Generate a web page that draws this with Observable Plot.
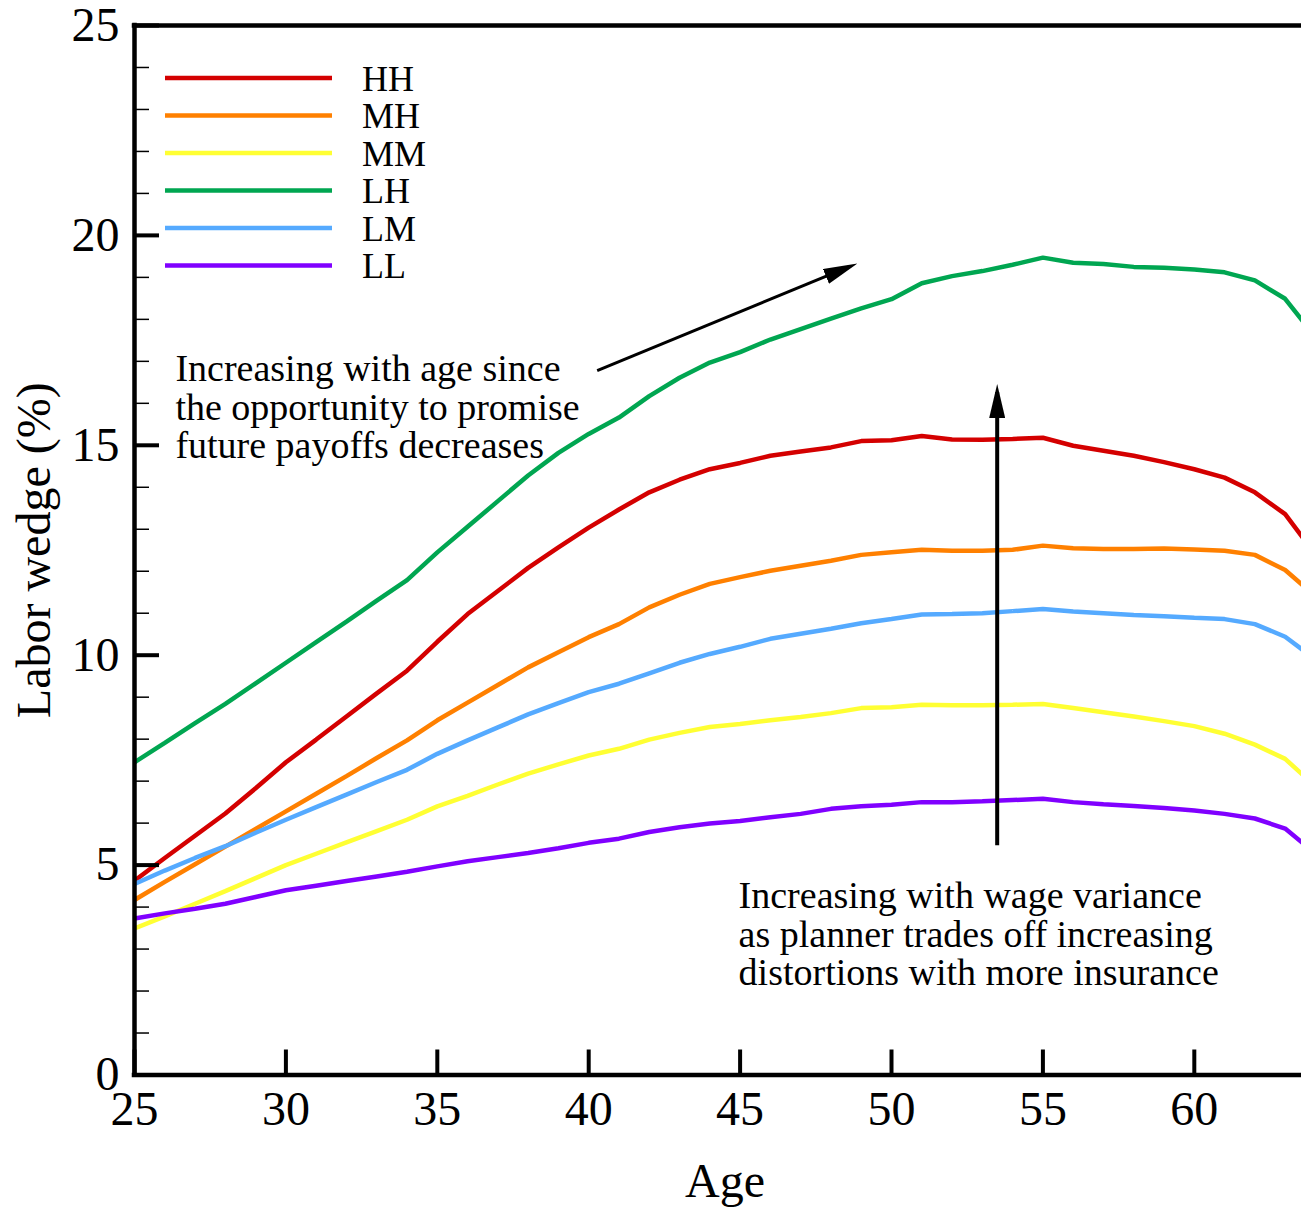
<!DOCTYPE html>
<html>
<head>
<meta charset="utf-8">
<script src="https://cdn.jsdelivr.net/npm/d3@7"></script>
<script src="https://cdn.jsdelivr.net/npm/@observablehq/plot@0.6"></script>
<style>
  html, body { margin: 0; padding: 0; background: #fff; }
  #chart { position: relative; width: 1301px; height: 1209px; overflow: hidden; background: #fff; }
  #legend { position: absolute; left: 0; top: 0; pointer-events: none; }
</style>
</head>
<body>
<div id="chart"></div>
<script>
// ---------------- data ----------------
const ages = [25,26,27,28,29,30,31,32,33,34,35,36,37,38,39,40,41,42,43,44,45,46,47,48,49,50,51,52,53,54,55,56,57,58,59,60,61,62,63,64];

const seriesNames  = ["HH", "MH", "MM", "LH", "LM", "LL"];
const seriesColors = ["#d40000", "#ff8000", "#ffff33", "#00a651", "#55aaff", "#8000ff"];

const HH = [4.63,5.17,5.70,6.23,6.83,7.45,7.99,8.54,9.09,9.63,10.32,10.98,11.53,12.08,12.57,13.04,13.47,13.88,14.18,14.43,14.58,14.75,14.85,14.95,15.10,15.12,15.22,15.14,15.13,15.15,15.18,14.99,14.87,14.75,14.60,14.43,14.23,13.88,13.36,12.40];
const MH = [4.17,4.60,5.02,5.44,5.86,6.28,6.70,7.12,7.55,7.97,8.45,8.87,9.29,9.71,10.07,10.43,10.74,11.14,11.44,11.70,11.86,12.01,12.13,12.25,12.39,12.45,12.51,12.49,12.49,12.51,12.61,12.55,12.53,12.53,12.54,12.52,12.49,12.39,12.03,11.40];
const MM = [3.49,3.78,4.08,4.38,4.69,5.00,5.27,5.54,5.81,6.08,6.40,6.65,6.92,7.18,7.40,7.61,7.77,7.99,8.15,8.29,8.36,8.45,8.53,8.62,8.74,8.76,8.82,8.81,8.81,8.82,8.84,8.74,8.64,8.54,8.43,8.31,8.13,7.87,7.53,6.88];
const LH = [7.45,7.91,8.38,8.84,9.33,9.82,10.31,10.80,11.30,11.79,12.45,13.06,13.67,14.28,14.82,15.27,15.66,16.17,16.61,16.97,17.22,17.52,17.77,18.02,18.26,18.48,18.86,19.03,19.15,19.30,19.47,19.35,19.32,19.25,19.23,19.19,19.12,18.93,18.49,17.58];
const LM = [4.55,4.87,5.17,5.45,5.77,6.08,6.38,6.68,6.98,7.27,7.65,7.97,8.28,8.59,8.86,9.12,9.32,9.57,9.82,10.03,10.20,10.39,10.51,10.63,10.76,10.86,10.97,10.98,11.00,11.05,11.10,11.04,11.00,10.96,10.93,10.89,10.86,10.74,10.44,9.90];
const LL = [3.73,3.85,3.96,4.08,4.24,4.40,4.51,4.62,4.73,4.84,4.97,5.09,5.19,5.29,5.40,5.53,5.63,5.79,5.90,5.99,6.05,6.14,6.22,6.34,6.40,6.44,6.50,6.50,6.52,6.55,6.58,6.50,6.45,6.41,6.36,6.30,6.22,6.11,5.87,5.28];

const xTicks = [25, 30, 35, 40, 45, 50, 55, 60];
const yTicks = [0, 5, 10, 15, 20, 25];
const yMinorTicks = [1,2,3,4,6,7,8,9,11,12,13,14,16,17,18,19,21,22,23,24];

const xLabel = "Age";
const yLabel = "Labor wedge (%)";

// annotations (data coordinates: age, wedge)
const noteTexts  = ["Increasing with age since\nthe opportunity to promise\nfuture payoffs decreases",
                    "Increasing with wage variance\nas planner trades off increasing\ndistortions with more insurance"];
const noteAges   = [26.35, 44.95];
const noteWedges = [15.90, 3.35];

const arrowAgeFrom   = [40.28, 53.49];
const arrowWedgeFrom = [16.78, 5.47];
const arrowAgeTo     = [48.63, 53.49];
const arrowWedgeTo   = [19.26, 16.27];

// ---------------- tables ----------------
const seriesValues = [HH, MH, MM, LH, LM, LL];
const rows = seriesNames.flatMap((s, i) => ages.map((a, j) => ({series: s, age: a, wedge: seriesValues[i][j]})));
const notes = noteTexts.map((t, i) => ({text: t, age: noteAges[i], wedge: noteWedges[i]}));
const arrows = arrowAgeFrom.map((a, i) => ({x1: a, y1: arrowWedgeFrom[i], x2: arrowAgeTo[i], y2: arrowWedgeTo[i], w: i === 0 ? 3 : 4}));

const serif = "'Liberation Serif', 'Times New Roman', Times, serif";

const plot = Plot.plot({
  width: 1301,
  height: 1209,
  marginLeft: 134,
  marginRight: 0,
  marginTop: 25,
  marginBottom: 134.5,
  style: {fontFamily: serif, fontSize: "48px", color: "#000", background: "#fff"},
  x: {domain: [25, 63.54]},
  y: {domain: [0, 25]},
  color: {domain: seriesNames, range: seriesColors},
  marks: [
    Plot.line(rows, {x: "age", y: "wedge", z: "series", stroke: "series", strokeWidth: 4.5, strokeLinejoin: "miter", clip: true}),
    // minor and major ticks (inward)
    Plot.axisY(yMinorTicks, {tickSize: -15, strokeWidth: 1.5, fill: "none", label: null}),
    Plot.axisY(yTicks, {tickSize: -25, strokeWidth: 4, fill: "none", label: null}),
    Plot.axisX(xTicks, {tickSize: -25, strokeWidth: 4, fill: "none", label: null}),
    // tick labels
    Plot.axisY(yTicks, {tickSize: 0, tickPadding: 15, fontSize: 48, label: null}),
    Plot.axisX(xTicks, {tickSize: 0, tickPadding: 16, fontSize: 48, label: null}),
    // frame
    Plot.ruleX([25], {strokeWidth: 4.5, strokeLinecap: "square"}),
    Plot.ruleY([0], {strokeWidth: 4.5, strokeLinecap: "square"}),
    Plot.ruleY([25], {strokeWidth: 4.5, strokeLinecap: "square"}),
    // axis titles
    Plot.text([xLabel], {text: d => d, frameAnchor: "bottom", textAnchor: "middle", dx: 7, dy: 107, fontSize: 48, lineAnchor: "middle"}),
    Plot.text([yLabel], {text: d => d, frameAnchor: "left", textAnchor: "middle", rotate: -90, dx: -100, fontSize: 48, lineAnchor: "middle"}),
    // annotations
    Plot.text(notes, {x: "age", y: "wedge", text: "text", textAnchor: "start", lineAnchor: "middle", lineHeight: 1.01, fontSize: 38, fill: "#000"}),
    Plot.link(arrows, {x1: "x1", y1: "y1", x2: "x2", y2: "y2", stroke: "#000", strokeWidth: "w", markerEnd: "arrow"})
  ]
});

// filled triangular arrowheads
const ns = "http://www.w3.org/2000/svg";
plot.querySelectorAll("marker").forEach(m => {
  m.setAttribute("viewBox", "0 -8 34 16");
  m.setAttribute("markerUnits", "userSpaceOnUse");
  m.setAttribute("markerWidth", 34);
  m.setAttribute("markerHeight", 16);
  m.setAttribute("refX", 26);
  m.setAttribute("refY", 0);
  m.setAttribute("fill", "#000");
  m.setAttribute("stroke", "none");
  while (m.firstChild) m.removeChild(m.firstChild);
  const p = document.createElementNS(ns, "path");
  p.setAttribute("d", "M0,-8L34,0L0,8Z");
  m.appendChild(p);
});

const chart = document.getElementById("chart");
chart.appendChild(plot);

// legend overlay
const legend = d3.select(chart).append("svg")
  .attr("id", "legend")
  .attr("width", 500).attr("height", 320)
  .style("font-family", serif);
const legendTop = 78, legendStep = 37.5;
seriesNames.forEach((s, i) => {
  const y = legendTop + i * legendStep;
  legend.append("line").attr("x1", 165).attr("x2", 332).attr("y1", y).attr("y2", y)
    .attr("stroke", seriesColors[i]).attr("stroke-width", 4.5);
  legend.append("text").attr("x", 362).attr("y", y + 12.5)
    .attr("font-size", 36).attr("fill", "#000").text(s);
});
</script>
</body>
</html>
